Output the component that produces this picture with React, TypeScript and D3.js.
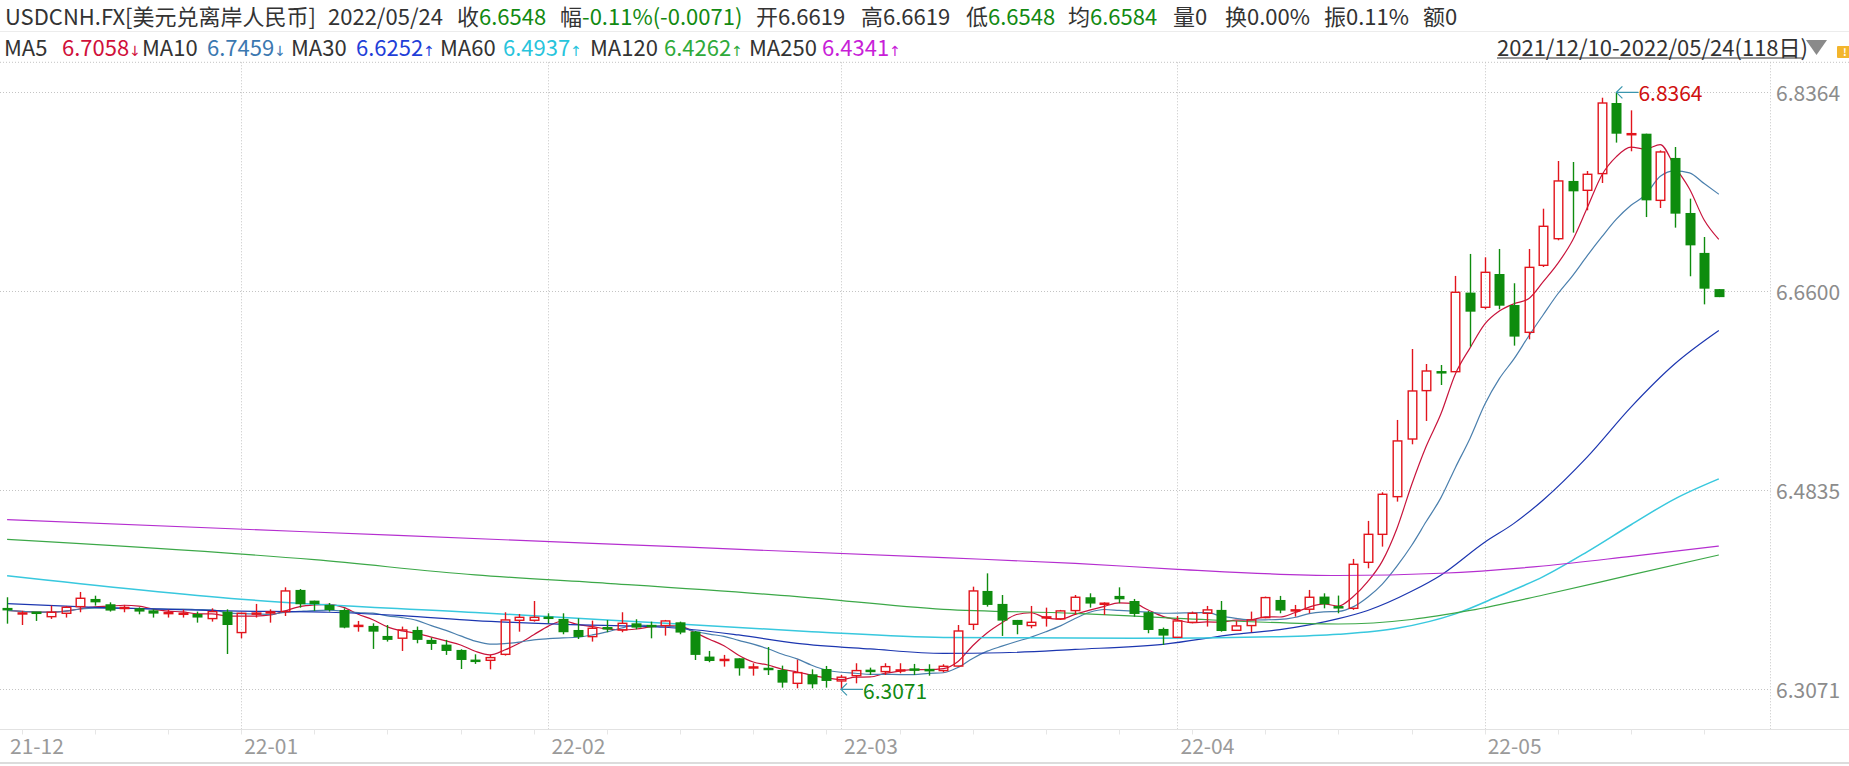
import React from 'react';
import * as d3 from 'd3';

// daily candles, 2021/12/10 - 2022/05/24 (118 sessions)
const opens = [
  6.3792, 6.3733, 6.3757, 6.3715, 6.3745, 6.3804, 6.3872, 6.3825, 6.3789, 6.3789,
  6.3771, 6.3742, 6.3739, 6.3739, 6.3698, 6.3760, 6.3574, 6.3736, 6.3748, 6.3760,
  6.3952, 6.3857, 6.3819, 6.3774, 6.3627, 6.3633, 6.3544, 6.3524, 6.3597, 6.3509,
  6.3467, 6.3420, 6.3331, 6.3328, 6.3381, 6.3683, 6.3683, 6.3709, 6.3695, 6.3597,
  6.3538, 6.3618, 6.3597, 6.3656, 6.3636, 6.3636, 6.3665, 6.3582, 6.3361, 6.3325,
  6.3346, 6.3257, 6.3257, 6.3243, 6.3124, 6.3204, 6.3251, 6.3145, 6.3192, 6.3240,
  6.3228, 6.3228, 6.3248, 6.3245, 6.3237, 6.3277, 6.3647, 6.3943, 6.3828, 6.3686,
  6.3636, 6.3701, 6.3695, 6.3769, 6.3887, 6.3825, 6.3899, 6.3854, 6.3754, 6.3606,
  6.3532, 6.3665, 6.3745, 6.3775, 6.3594, 6.3636, 6.3707, 6.3863, 6.3766, 6.3781,
  6.3893, 6.3807, 6.3789, 6.4197, 6.4445, 6.4779, 6.5290, 6.5719, 6.5890, 6.5887,
  6.6588, 6.6458, 6.6753, 6.6478, 6.6236, 6.6830, 6.7066, 6.7578, 6.7495, 6.7643,
  6.8269, 6.7988, 6.7997, 6.7406, 6.7782, 6.7294, 6.6940, 6.6619,
];
const highs = [
  6.3887, 6.3766, 6.3757, 6.3813, 6.3810, 6.3934, 6.3901, 6.3842, 6.3819, 6.3798,
  6.3780, 6.3777, 6.3777, 6.3760, 6.3789, 6.3780, 6.3751, 6.3828, 6.3780, 6.3975,
  6.3960, 6.3857, 6.3836, 6.3789, 6.3677, 6.3656, 6.3641, 6.3627, 6.3627, 6.3529,
  6.3509, 6.3426, 6.3381, 6.3376, 6.3754, 6.3739, 6.3854, 6.3745, 6.3745, 6.3700,
  6.3680, 6.3685, 6.3754, 6.3692, 6.3671, 6.3686, 6.3671, 6.3588, 6.3411, 6.3376,
  6.3346, 6.3302, 6.3446, 6.3281, 6.3334, 6.3248, 6.3278, 6.3198, 6.3302, 6.3263,
  6.3302, 6.3302, 6.3296, 6.3293, 6.3293, 6.3641, 6.3981, 6.4099, 6.3907, 6.3686,
  6.3810, 6.3795, 6.3775, 6.3907, 6.3922, 6.3842, 6.3975, 6.3872, 6.3766, 6.3618,
  6.3721, 6.3760, 6.3810, 6.3854, 6.3677, 6.3760, 6.3893, 6.3899, 6.3819, 6.3952,
  6.3922, 6.3902, 6.4227, 6.4564, 6.4818, 6.5459, 6.6088, 6.5955, 6.5946, 6.6736,
  6.6931, 6.6901, 6.6975, 6.6671, 6.6975, 6.7332, 6.7755, 6.7746, 6.7666, 6.8316,
  6.8364, 6.8204, 6.7997, 6.7849, 6.7879, 6.7421, 6.7081, 6.6619,
];
const lows = [
  6.3653, 6.3641, 6.3677, 6.3695, 6.3707, 6.3754, 6.3813, 6.3760, 6.3754, 6.3736,
  6.3707, 6.3707, 6.3707, 6.3662, 6.3671, 6.3384, 6.3523, 6.3707, 6.3662, 6.3721,
  6.3795, 6.3766, 6.3760, 6.3612, 6.3582, 6.3429, 6.3494, 6.3411, 6.3479, 6.3420,
  6.3376, 6.3251, 6.3296, 6.3248, 6.3370, 6.3582, 6.3671, 6.3656, 6.3559, 6.3517,
  6.3494, 6.3577, 6.3577, 6.3603, 6.3523, 6.3547, 6.3559, 6.3331, 6.3311, 6.3272,
  6.3192, 6.3192, 6.3198, 6.3086, 6.3080, 6.3080, 6.3086, 6.3071, 6.3124, 6.3198,
  6.3198, 6.3213, 6.3198, 6.3192, 6.3222, 6.3270, 6.3597, 6.3804, 6.3544, 6.3559,
  6.3612, 6.3627, 6.3686, 6.3730, 6.3795, 6.3730, 6.3834, 6.3715, 6.3568, 6.3464,
  6.3532, 6.3656, 6.3627, 6.3582, 6.3594, 6.3577, 6.3701, 6.3745, 6.3715, 6.3745,
  6.3789, 6.3745, 6.3775, 6.4144, 6.4336, 6.4735, 6.5243, 6.5450, 6.5769, 6.5887,
  6.6109, 6.6440, 6.6440, 6.6118, 6.6174, 6.6815, 6.7052, 6.7120, 6.7318, 6.7560,
  6.7918, 6.7841, 6.7258, 6.7338, 6.7164, 6.6733, 6.6484, 6.6548,
];
const closes = [
  6.3771, 6.3754, 6.3742, 6.3754, 6.3798, 6.3878, 6.3842, 6.3769, 6.3795, 6.3760,
  6.3742, 6.3751, 6.3742, 6.3707, 6.3760, 6.3641, 6.3745, 6.3748, 6.3757, 6.3943,
  6.3825, 6.3825, 6.3774, 6.3618, 6.3639, 6.3582, 6.3509, 6.3597, 6.3509, 6.3473,
  6.3411, 6.3331, 6.3316, 6.3352, 6.3686, 6.3709, 6.3709, 6.3701, 6.3577, 6.3535,
  6.3612, 6.3606, 6.3656, 6.3618, 6.3627, 6.3677, 6.3574, 6.3376, 6.3322, 6.3337,
  6.3257, 6.3272, 6.3245, 6.3130, 6.3219, 6.3115, 6.3145, 6.3178, 6.3237, 6.3228,
  6.3272, 6.3248, 6.3243, 6.3237, 6.3275, 6.3588, 6.3943, 6.3819, 6.3680, 6.3642,
  6.3665, 6.3716, 6.3766, 6.3887, 6.3831, 6.3834, 6.3869, 6.3739, 6.3597, 6.3547,
  6.3677, 6.3745, 6.3775, 6.3588, 6.3633, 6.3686, 6.3884, 6.3769, 6.3775, 6.3887,
  6.3825, 6.3789, 6.4179, 6.4445, 6.4800, 6.5273, 6.5716, 6.5893, 6.5873, 6.6591,
  6.6419, 6.6768, 6.6472, 6.6198, 6.6812, 6.7176, 6.7578, 6.7486, 6.7637, 6.8269,
  6.7997, 6.7997, 6.7406, 6.7835, 6.7288, 6.7007, 6.6623, 6.6548,
];

// long moving averages: [session index, value]
const ma30Pts: [number, number][] = [
  [0, 6.3831], [6, 6.3798], [15, 6.3766], [22, 6.3754], [27, 6.3724], [32, 6.3680],
  [38, 6.3647], [45, 6.3621], [50, 6.3553], [54, 6.3479], [59, 6.3429], [64, 6.3390],
  [68, 6.3395], [73, 6.3425], [79, 6.3470], [84, 6.3560], [87, 6.3600], [91, 6.3697],
  [93, 6.3770], [96, 6.3940], [98, 6.4083], [101, 6.4375], [103, 6.4542], [105, 6.4750],
  [108, 6.5130], [111, 6.5573], [114, 6.5957], [117, 6.6252],
];
const ma60Pts: [number, number][] = [
  [0, 6.4078], [16, 6.3870], [32, 6.3752], [45, 6.3656], [55, 6.3582], [64, 6.3530],
  [77, 6.3523], [87, 6.3538], [91, 6.3559], [95, 6.3612], [99, 6.3740], [102, 6.3900],
  [105, 6.4070], [108, 6.4290], [111, 6.4530], [114, 6.4760], [117, 6.4937],
];
const ma120Pts: [number, number][] = [
  [0, 6.4400], [21, 6.4220], [32, 6.4085], [41, 6.4011], [54, 6.3893], [64, 6.3780],
  [73, 6.3745], [80, 6.3700], [91, 6.3650], [96, 6.3690], [100, 6.3770], [105, 6.3907],
  [111, 6.4085], [117, 6.4262],
];
const ma250Pts: [number, number][] = [
  [0, 6.4575], [20, 6.4470], [40, 6.4365], [64, 6.4238], [73, 6.4188], [80, 6.4135],
  [91, 6.4080], [98, 6.4100], [105, 6.4164], [111, 6.4250], [117, 6.4341],
];

const monthLabels = ['21-12', '22-01', '22-02', '22-03', '22-04', '22-05'];
const monthStarts = [0, 16, 37, 57, 80, 101];
const priceTicks = [6.8364, 6.66, 6.4835, 6.3071];

const maNames = ['MA5', 'MA10', 'MA30', 'MA60', 'MA120', 'MA250'];
const maLast = ['6.7058', '6.7459', '6.6252', '6.4937', '6.4262', '6.4341'];
const maDir = ['↓', '↓', '↑', '↑', '↑', '↑'];

const W = 1849;
const H = 766;
const FONT = '"Noto Sans CJK SC", "Noto Sans", sans-serif';
const RED = '#e2141c';
const GREEN = '#0e8c0e';
const TXT = '#333';
const VAL_GREEN = '#128a12';
const GRID = '#c4c4c4';
const PLOT_TOP = 62.3;
const PLOT_BOTTOM = 729.5;
const PLOT_RIGHT = 1770.5;

const maTextColors = ['#d0103a', '#3b78b0', '#1f3fd8', '#28c4dc', '#2faa3a', '#c81ed8'];
const maLineColors = ['#c8143c', '#4a7fad', '#1c36b0', '#38c8de', '#3ca848', '#b52fd0'];
const maLabelX = [4, 142, 291, 440, 590, 749];
const maValueX = [62, 207, 356, 503, 664, 822];

const x = d3.scaleLinear().domain([0, closes.length - 1]).range([7.1, 1718.8]);
const y = d3.scaleLinear().domain([6.3071, 6.8364]).range([689.3, 92.3]);

const movingAvg = (n: number): [number, number][] =>
  closes.map((_, i) => [i, d3.mean(closes.slice(Math.max(0, i - n + 1), i + 1)) as number]);

const line = d3.line<[number, number]>()
  .x(d => x(d[0]))
  .y(d => y(d[1]))
  .curve(d3.curveMonotoneX);

const App: React.FC = () => {
  const maSeries = [movingAvg(5), movingAvg(10), ma30Pts, ma60Pts, ma120Pts, ma250Pts];
  const hiIdx = d3.maxIndex(highs);
  const loIdx = d3.minIndex(lows);
  const bw = 10;

  return (
    <svg width={W} height={H} style={{ display: 'block', background: '#fff' }} fontFamily={FONT}>
      <style>{'body{margin:0}'}</style>
      <rect width={W} height={H} fill="#fff" />

      {/* header row 1 */}
      <g fontSize={22} fill={TXT}>
        <text x={5} y={25}>USDCNH.FX[美元兑离岸人民币]</text>
        <text x={328} y={25}>2022/05/24</text>
        <text x={457} y={25}>收<tspan fill={VAL_GREEN}>6.6548</tspan></text>
        <text x={560} y={25}>幅<tspan fill={VAL_GREEN}>-0.11%(-0.0071)</tspan></text>
        <text x={756} y={25}>开6.6619</text>
        <text x={861} y={25}>高6.6619</text>
        <text x={966} y={25}>低<tspan fill={VAL_GREEN}>6.6548</tspan></text>
        <text x={1068} y={25}>均<tspan fill={VAL_GREEN}>6.6584</tspan></text>
        <text x={1173} y={25}>量0</text>
        <text x={1225} y={25}>换0.00%</text>
        <text x={1324} y={25}>振0.11%</text>
        <text x={1423} y={25}>额0</text>
      </g>
      <line x1={0} x2={W} y1={31.5} y2={31.5} stroke="#ececec" />

      {/* header row 2: MA legend */}
      <g fontSize={22}>
        {maNames.map((n, k) => (
          <g key={n}>
            <text x={maLabelX[k]} y={56} fill={TXT}>{n}</text>
            <text x={maValueX[k]} y={56} fill={maTextColors[k]}>
              {maLast[k]}
              <tspan fontFamily="DejaVu Sans" fontSize={14}>{maDir[k]}</tspan>
            </text>
          </g>
        ))}
      </g>
      <text x={1497} y={56} fontSize={22} fill={TXT}>2021/12/10-2022/05/24(118日)</text>
      <line x1={1497} x2={1803} y1={58} y2={58} stroke={TXT} strokeWidth={1} />
      <path d="M1806,40 L1827,40 L1816.5,55 Z" fill="#8a8a8a" />
      <rect x={1837} y={46} width={14} height={12} rx={1} fill="#f3b52c" />
      <text x={1843} y={56} fontSize={10} fill="#fff" fontWeight="bold">!</text>

      {/* frame and grid */}
      <line x1={0} x2={W} y1={PLOT_TOP} y2={PLOT_TOP} stroke={GRID} strokeDasharray="1 2" />
      {priceTicks.map(p => (
        <line key={p} x1={0} x2={PLOT_RIGHT} y1={Math.round(y(p)) + 0.5} y2={Math.round(y(p)) + 0.5}
          stroke={GRID} strokeDasharray="1 2" />
      ))}
      {monthStarts.slice(1).map(i => (
        <line key={i} x1={Math.round(x(i)) + 0.5} x2={Math.round(x(i)) + 0.5} y1={PLOT_TOP} y2={PLOT_BOTTOM}
          stroke={GRID} strokeDasharray="1 2" />
      ))}
      <line x1={PLOT_RIGHT} x2={PLOT_RIGHT} y1={PLOT_TOP} y2={PLOT_BOTTOM} stroke={GRID} strokeDasharray="1 2" />
      <line x1={0} x2={W} y1={PLOT_BOTTOM} y2={PLOT_BOTTOM} stroke="#e2e2e2" />
      {d3.range(1, closes.length, 5).map(i => (
        <line key={i} x1={Math.round(x(i)) + 0.5} x2={Math.round(x(i)) + 0.5} y1={PLOT_BOTTOM} y2={PLOT_BOTTOM + 5}
          stroke="#e6e6e6" />
      ))}
      <line x1={0} x2={W} y1={763} y2={763} stroke="#dcdcdc" strokeWidth={2} />

      {/* axis labels */}
      {priceTicks.map(p => (
        <text key={p} x={1776} y={y(p)} dominantBaseline="central" fontSize={21} fill="#8c8c8c">
          {p.toFixed(4)}
        </text>
      ))}
      {monthLabels.map((m, k) => (
        <text key={m} x={k === 0 ? 10 : x(monthStarts[k]) + 3} y={745} dominantBaseline="central"
          fontSize={21} fill="#9a9a9a">{m}</text>
      ))}

      {/* moving averages */}
      {maSeries.map((s, k) => (
        <path key={k} d={line(s) || ''} fill="none" stroke={maLineColors[k]}
          strokeWidth={k === 3 ? 1.5 : 1.2} />
      ))}

      {/* candles */}
      {closes.map((c, i) => {
        const o = opens[i];
        const up = c >= o;
        const col = up ? RED : GREEN;
        const cx = Math.round(x(i)) + 0.5;
        const top = y(Math.max(o, c));
        const bot = y(Math.min(o, c));
        const h = bot - top;
        if (h < 2.5) {
          return (
            <g key={i}>
              <line x1={cx} x2={cx} y1={y(highs[i])} y2={y(lows[i])} stroke={col} strokeWidth={1.4} />
              <rect x={cx - bw / 2} y={(top + bot) / 2 - 1.25} width={bw} height={2.5} fill={col} />
            </g>
          );
        }
        if (up) {
          return (
            <g key={i}>
              <line x1={cx} x2={cx} y1={y(highs[i])} y2={top} stroke={col} strokeWidth={1.4} />
              <line x1={cx} x2={cx} y1={bot} y2={y(lows[i])} stroke={col} strokeWidth={1.4} />
              <rect x={cx - bw / 2 + 0.7} y={top} width={bw - 1.4} height={h} fill="none" stroke={col}
                strokeWidth={1.4} />
            </g>
          );
        }
        return (
          <g key={i}>
            <line x1={cx} x2={cx} y1={y(highs[i])} y2={y(lows[i])} stroke={col} strokeWidth={1.4} />
            <rect x={cx - bw / 2} y={top} width={bw} height={h} fill={col} />
          </g>
        );
      })}

      {/* high / low markers */}
      <g stroke="#3a96ae" strokeWidth={1.2} fill="none">
        <path d={`M${x(hiIdx)},${y(highs[hiIdx])} H${x(hiIdx) + 22} M${x(hiIdx) + 6},${y(highs[hiIdx]) - 6} L${x(hiIdx)},${y(highs[hiIdx])} L${x(hiIdx) + 6},${y(highs[hiIdx]) + 6}`} />
        <path d={`M${x(loIdx)},${y(lows[loIdx])} H${x(loIdx) + 22} M${x(loIdx) + 6},${y(lows[loIdx]) - 6} L${x(loIdx)},${y(lows[loIdx])} L${x(loIdx) + 6},${y(lows[loIdx]) + 6}`} />
      </g>
      <text x={x(hiIdx) + 22} y={y(highs[hiIdx])} dominantBaseline="central" fontSize={21} fill="#d01010">
        {highs[hiIdx].toFixed(4)}
      </text>
      <text x={x(loIdx) + 22} y={y(lows[loIdx]) + 1} dominantBaseline="central" fontSize={21} fill={VAL_GREEN}>
        {lows[loIdx].toFixed(4)}
      </text>
    </svg>
  );
};

export default App;
